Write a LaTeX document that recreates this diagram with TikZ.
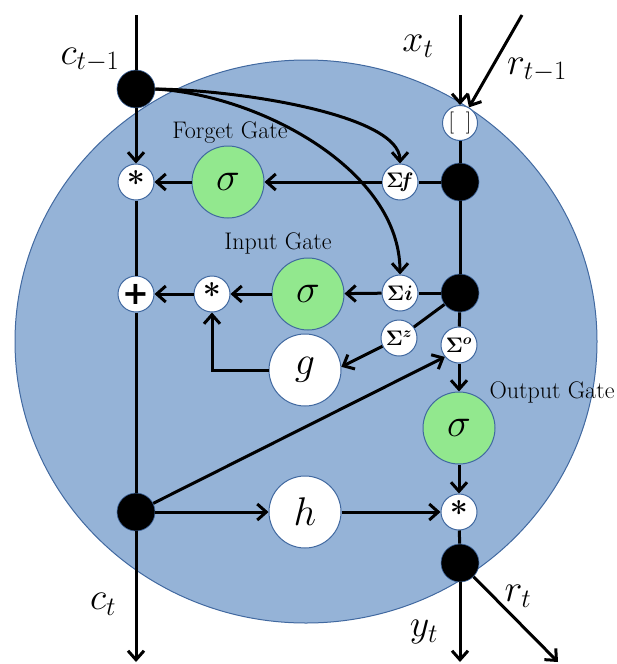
\RequirePackage{fix-cm}
\documentclass[tikz,border=0pt]{standalone}
\usepackage{fontspec}
\newfontfamily\dejavu{DejaVu Sans}
\usetikzlibrary{arrows.meta}
\definecolor{cellblue}{RGB}{149,179,215}
\definecolor{edgeblue}{RGB}{65,105,160}
\definecolor{gatey}{RGB}{146,232,142}
\begin{document}
\begin{tikzpicture}[x=1pt,y=-1pt,
  conn/.style={line width=3pt},
  arr/.style={line width=3pt,-{Straight Barb[length=9pt,width=16pt]}},
  blk/.style={circle,fill=black,draw=edgeblue,line width=0.6pt,minimum size=38pt,inner sep=0pt},
  sm/.style={circle,fill=white,draw=edgeblue,line width=1pt,minimum size=36pt,inner sep=0pt,font=\fontsize{21}{21}\selectfont\boldmath},
  op/.style={sm,font=\fontsize{32}{32}\selectfont\bfseries},
  grn/.style={circle,fill=gatey,draw=edgeblue,line width=1pt,minimum size=72pt,inner sep=0pt,font=\fontsize{40}{40}\selectfont},
  wht/.style={circle,fill=white,draw=edgeblue,line width=1pt,minimum size=72pt,inner sep=0pt,font=\fontsize{40}{40}\selectfont},
  lbl/.style={font=\fontsize{38}{38}\selectfont},
  gl/.style={font=\fontsize{24}{24}\selectfont}
]
\useasboundingbox (0,0) rectangle (616,664);
\fill[cellblue,draw=edgeblue,line width=1pt] (306,341.5) ellipse [x radius=291, y radius=281.5];

% free ends
\coordinate (ctop) at (136,15);
\coordinate (xtop) at (460,15);
\coordinate (rtop) at (522,15);
\coordinate (cbot) at (136,662);
\coordinate (ybot) at (460,662);
\coordinate (rbot) at (558,662);

% nodes
\node[blk] (cp) at (136,89) {};
\node[op] (fs) at (136,182) {\raisebox{-7pt}{*}};
\node[op,font=\fontsize{32}{32}\selectfont\dejavu\bfseries] (pl) at (136,294) {+};
\node[blk] (ct) at (136,512) {};
\node[grn] (fsg) at (228,182) {$\sigma$};
\node[op] (ist) at (212,294) {\raisebox{-7pt}{*}};
\node[grn] (isg) at (308,294) {$\sigma$};
\node[sm] (sf) at (400,182) {$\Sigma\! f$};
\node[sm] (si) at (400,293) {$\Sigma i$};
\node[sm] (sz) at (399,338) {$\Sigma^{z}$};
\node[sm] (so) at (459,345) {$\Sigma^{o}$};
\node[sm,minimum size=35pt,font=\fontsize{22}{22}\selectfont] (bx) at (460,123) {[\hspace{12pt}]};
\node[blk] (b1) at (460,182) {};
\node[blk] (b2) at (460,293) {};
\node[grn] (osg) at (459,428) {$\sigma$};
\node[op] (ost) at (459,512) {\raisebox{-7pt}{*}};
\node[wht] (g) at (305,370) {$g$};
\node[wht] (h) at (305,512) {$h$};
\node[blk] (bot) at (460,563) {};

% labels
\node[lbl] (lcp) at (90,60) {$c_{t-1}$};
\node[lbl] (lx) at (418,46) {$x_t$};
\node[lbl] (lr) at (537,70) {$r_{t-1}$};
\node[lbl] (lc) at (103,604) {$c_t$};
\node[lbl] (ly) at (424,632) {$y_t$};
\node[lbl] (lrt) at (518,596) {$r_t$};
\node[gl] (lfg) at (230,133) {Forget Gate};
\node[gl] (lig) at (278,243) {Input Gate};
\node[gl] (log) at (552,392) {Output Gate};

% connectors
\draw[conn] (ctop) -- (cp);
\draw[arr] (cp) -- (fs);
\draw[conn] (fs) -- (pl);
\draw[conn] (pl) -- (ct);
\draw[arr] (ct) -- (cbot);
\draw[arr] (xtop) -- (bx);
\draw[arr] (rtop) -- (bx);
\draw[conn] (bx) -- (b1);
\draw[conn] (b1) -- (b2);
\draw[conn] (b2) -- (so);
\draw[arr] (so) -- (osg);
\draw[arr] (osg) -- (ost);
\draw[conn] (ost) -- (bot);
\draw[arr] (bot) -- (ybot);
\draw[arr] (bot) -- (rbot);
\draw[conn] (b1) -- (sf);
\draw[arr] (sf) -- (fsg);
\draw[arr] (fsg) -- (fs);
\draw[conn] (b2) -- (si);
\draw[arr] (si) -- (isg);
\draw[arr] (isg) -- (ist);
\draw[arr] (ist) -- (pl);
\draw[conn] (b2) -- (sz);
\draw[arr] (sz) -- (g.5);
\draw[arr] (g) -| (ist);
\draw[arr] (ct) -- (so.220);
\draw[arr] (ct) -- (h);
\draw[arr] (h) -- (ost);
\draw[arr] (cp.east) .. controls (240,90) and (400,115) .. (sf.north);
\draw[arr] (cp.east) .. controls (260,95) and (400,170) .. (si.north);
\end{tikzpicture}
\end{document}
